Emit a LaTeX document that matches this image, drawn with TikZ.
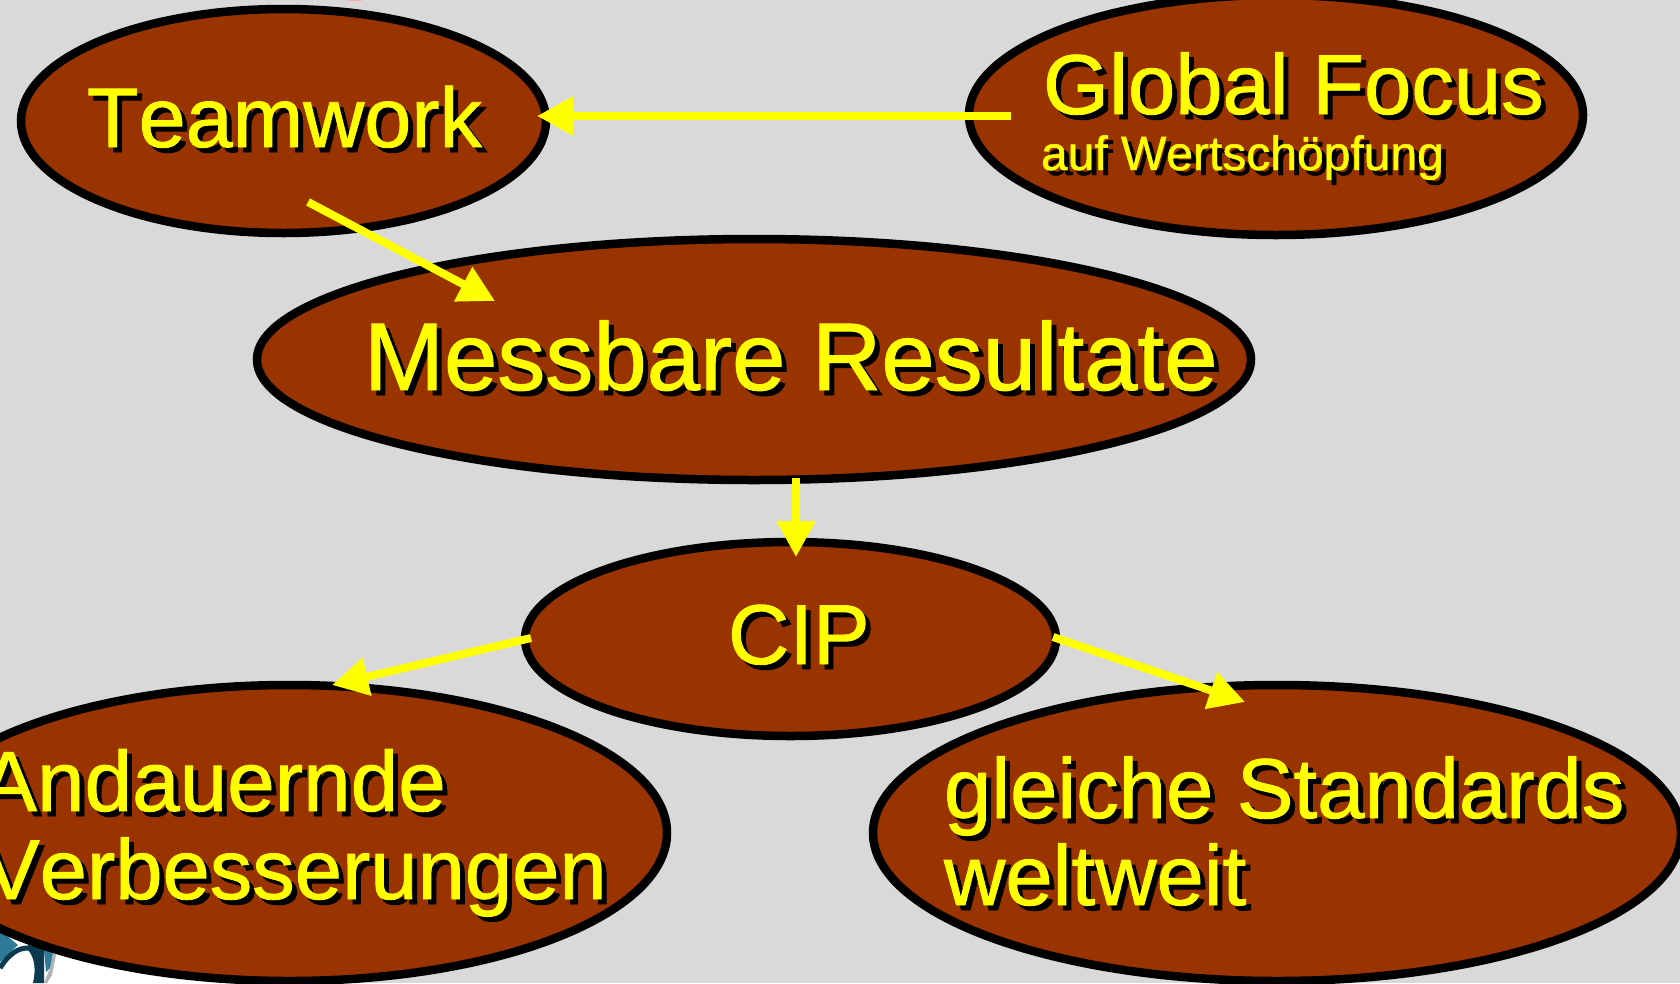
\documentclass[tikz,border=0pt]{standalone}
\usepackage{fontspec}
\setmainfont[Kerning=Off,FakeBold=1.0]{Liberation Sans}
\usetikzlibrary{shapes.geometric,arrows.meta}
\definecolor{bgrey}{HTML}{D9D9D9}
\definecolor{brust}{HTML}{993300}
\definecolor{yell}{HTML}{FFFF00}
\definecolor{tealdark}{HTML}{0B3A50}
\definecolor{teallight}{HTML}{2F7A98}
\newcommand{\shadowed}[1]{\leavevmode\rlap{\color{black}\hspace{5pt}\raisebox{-5pt}{#1}}#1}
\tikzset{
  x=1pt,y=-1pt,
  oval/.style={ellipse,draw=black,fill=brust,line width=8.5pt,inner sep=0pt,outer sep=0pt},
  lab/.style={anchor=base west,inner sep=0pt,outer sep=0pt,text=yell,align=left},
  conn/.style={draw=yell,line width=8pt,-{Triangle[length=36pt,width=37pt]}},
}
\begin{document}
\begin{tikzpicture}
\useasboundingbox (0,0) rectangle (1680,983);
\clip (0,0) rectangle (1680,983);
\fill[bgrey] (0,0) rectangle (1680,983);
% white corner with the logo fragment
\fill[white] (0,925) -- (0,983) -- (300,983) -- (300,970) -- cycle;
\fill[teallight] (0,930) -- (18,945) -- (0,962) -- cycle;
\fill[teallight] (44,950) -- (53,952) -- (52,966) -- (46,972) -- cycle;
\fill[gray!60] (53,952) -- (56,955) -- (52,975) -- (47,983) -- (44,983) -- (50,968) -- cycle;
\draw[tealdark,line width=5pt] (0,968) .. controls (8,955) and (18,947) .. (30,948);
\fill[tealdark] (28,945) -- (44,948) -- (44,983) -- (33,983) .. controls (36,970) and (35,958) .. (28,950) -- cycle;
\fill[pink!90!red] (348,-2) rectangle (362,1);

\node[oval,minimum width=525pt,minimum height=224pt] (team) at (283.5,121) {};
\node[oval,minimum width=614pt,minimum height=240pt] (global) at (1276,115) {};
\node[oval,minimum width=994pt,minimum height=241pt] (mess) at (754,359.5) {};
\node[oval,minimum width=531pt,minimum height=194pt] (cip) at (790.5,639) {};
\node[oval,minimum width=756pt,minimum height=296pt] (and) at (289,833) {};
\node[oval,minimum width=808pt,minimum height=296pt] (gleich) at (1277,833) {};

\node[lab,font=\fontsize{84.6}{84.6}\selectfont] (teamt) at (87,147) {\shadowed{Teamwork}};
\node[lab,font=\fontsize{85}{85}\selectfont] (globalt) at (1043,114) {\shadowed{Global Focus}};
\node[lab,font=\fontsize{48}{48}\selectfont] (auft) at (1041,170) {\shadowed{auf Wertschöpfung}};
\node[lab,font=\fontsize{96}{96}\selectfont] (messt) at (364,390) {\shadowed{Messbare Resultate}};
\node[lab,font=\fontsize{85}{85}\selectfont] (cipt) at (728,664) {\shadowed{CIP}};
\node[lab,font=\fontsize{85.5}{85.5}\selectfont] (andt) at (-20,811) {\shadowed{Andauernde}};
\node[lab,font=\fontsize{85}{85}\selectfont] (verbt) at (-17,899) {\shadowed{Verbesserungen}};
\node[lab,font=\fontsize{85}{85}\selectfont] (gleicht) at (944,818) {\shadowed{gleiche Standards}};
\node[lab,font=\fontsize{85}{85}\selectfont] (weltt) at (944,905) {\shadowed{weltweit}};

\coordinate (gs) at (1011,116); \coordinate (ge) at (537,116);
\coordinate (ts) at (308,202);  \coordinate (te) at (495,301);
\coordinate (ms) at (796,478);  \coordinate (me) at (796,557);
\coordinate (cl) at (531,638);  \coordinate (al) at (332,685);
\coordinate (cr) at (1053,637); \coordinate (gr) at (1245,702);
\draw[conn] (gs) -- (ge);
\draw[conn] (ts) -- (te);
\draw[conn] (ms) -- (me);
\draw[conn] (cl) -- (al);
\draw[conn] (cr) -- (gr);
\end{tikzpicture}
\end{document}
